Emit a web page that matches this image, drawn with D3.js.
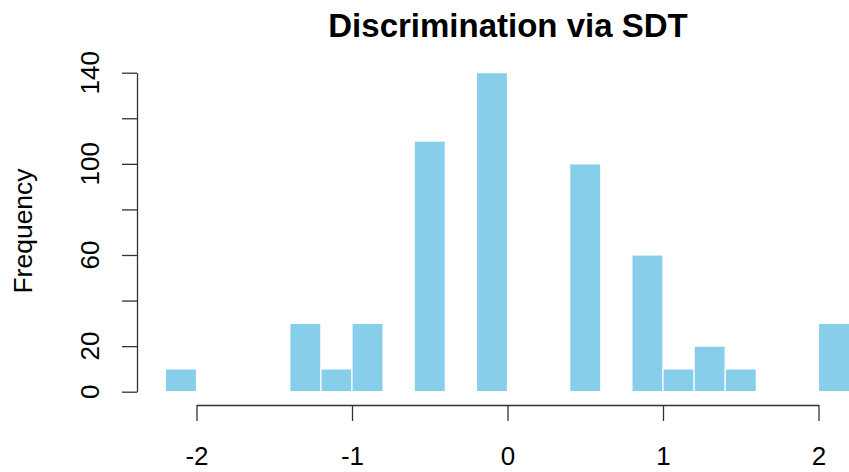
<!DOCTYPE html>
<html>
<head>
<meta charset="utf-8">
<script src="https://cdn.jsdelivr.net/npm/d3@7"></script>
<style>
  body { margin: 0; background: #fff; }
  text { font-family: "Liberation Sans", Arial, sans-serif; fill: #000; }
</style>
</head>
<body>
<script>
// histogram bins (left edge), width 0.2
var binStarts = [-2.2, -2.0, -1.8, -1.6, -1.4, -1.2, -1.0, -0.8, -0.6, -0.4, -0.2,
                 0.0, 0.2, 0.4, 0.6, 0.8, 1.0, 1.2, 1.4, 1.6, 1.8, 2.0]
var counts    = [10, 0, 0, 0, 30, 10, 30, 0, 110, 0, 140,
                 0, 0, 100, 0, 60, 10, 20, 10, 0, 0, 30]
var binWidth = 0.2
var xTicks = [-2, -1, 0, 1, 2]
var yTicks = [0, 20, 40, 60, 80, 100, 120, 140]
var yLabels = [0, 20, 60, 100, 140]

var width = 849, height = 472

var svg = d3.select("body")
            .append("svg")
            .attr("width", width)
            .attr("height", height)

var x = d3.scaleLinear().domain([-2, 2]).range([196.5, 818.5])
var y = d3.scaleLinear().domain([0, 140]).range([391.7, 72.7])

// bars
svg.selectAll("rect.bar")
   .data(binStarts.map((b, i) => ({x0: b, n: counts[i]})).filter(d => d.n > 0))
   .enter().append("rect")
   .attr("class", "bar")
   .attr("x", d => x(d.x0))
   .attr("width", d => x(d.x0 + binWidth) - x(d.x0))
   .attr("y", d => y(d.n))
   .attr("height", d => y(0) - y(d.n))
   .attr("fill", "#87CEEB")
   .attr("stroke", "#fff")
   .attr("stroke-width", 1.2)

// x axis
var xAxis = svg.append("g")
   .attr("transform", "translate(0,405)")
   .call(d3.axisBottom(x).tickValues(xTicks).tickSize(16).tickSizeOuter(0).tickFormat(d3.format("d")))
xAxis.select(".domain").attr("stroke", "#333").attr("stroke-width", 1.3)
xAxis.selectAll(".tick line").attr("stroke", "#333").attr("stroke-width", 1.3)
xAxis.selectAll(".tick text")
     .attr("y", 60)
     .attr("dy", 0)
     .style("font-size", "26px")
     .text(d => d < 0 ? "-" + Math.abs(d) : d)

// y axis
var yAxis = svg.append("g")
   .attr("transform", "translate(137,0)")
   .call(d3.axisLeft(y).tickValues(yTicks).tickSize(15).tickSizeOuter(0).tickFormat(""))
yAxis.select(".domain").attr("stroke", "#333").attr("stroke-width", 1.3)
yAxis.selectAll(".tick line").attr("stroke", "#333").attr("stroke-width", 1.3)

svg.selectAll("text.ylab")
   .data(yLabels)
   .enter().append("text")
   .attr("class", "ylab")
   .attr("transform", d => "translate(99," + y(d) + ") rotate(-90)")
   .attr("text-anchor", "middle")
   .style("font-size", "26px")
   .text(d => d)

// axis title
svg.append("text")
   .attr("transform", "translate(32,231) rotate(-90)")
   .attr("text-anchor", "middle")
   .style("font-size", "26.5px")
   .text("Frequency")

// main title
svg.append("text")
   .attr("x", 508)
   .attr("y", 37)
   .attr("text-anchor", "middle")
   .style("font-size", "33px")
   .style("font-weight", "bold")
   .text("Discrimination via SDT")
</script>
</body>
</html>
